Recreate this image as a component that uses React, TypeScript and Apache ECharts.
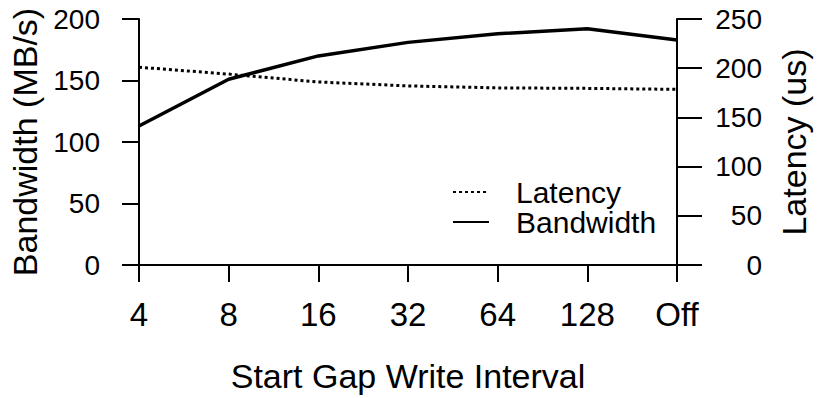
import React, { useEffect, useRef } from "react";
import * as echarts from "echarts";

const categories = ["4", "8", "16", "32", "64", "128", "Off"];
const bandwidth = [113, 151, 170, 181, 188, 192, 183];
const latency = [201, 194, 186, 182, 180, 179.5, 178.5];
const leftTicks = { min: 0, max: 200, interval: 50 };
const rightTicks = { min: 0, max: 250, interval: 50 };

const FONT = "'Liberation Sans', Arial, Helvetica, sans-serif";

export default function App() {
  const ref = useRef<HTMLDivElement>(null);
  useEffect(() => {
    if (!ref.current) return;
    const chart = echarts.init(ref.current, null, { renderer: "svg" });
    const axisLine = { show: true, onZero: false, lineStyle: { color: "#000", width: 2 } };
    chart.setOption({
      animation: false,
      backgroundColor: "#fff",
      textStyle: { fontFamily: FONT, color: "#000" },
      grid: { left: 139, right: 131, top: 19, bottom: 130, containLabel: false },
      legend: {
        orient: "vertical",
        left: 452,
        top: 177,
        padding: 0,
        itemGap: 0,
        itemWidth: 36,
        itemHeight: 10,
        itemStyle: { opacity: 0 },
        data: [
          { name: "Latency", itemStyle: { opacity: 0 } },
          { name: "Bandwidth", itemStyle: { opacity: 0 } },
        ],
        textStyle: { fontFamily: FONT, fontSize: 30, color: "#000", lineHeight: 27, padding: [0, 0, 0, 22] },
      },
      xAxis: {
        type: "category",
        data: categories,
        boundaryGap: false,
        axisLine,
        axisTick: { show: true, length: 17, lineStyle: { color: "#000", width: 2 } },
        axisLabel: { fontFamily: FONT, fontSize: 33, color: "#000", margin: 33 },
        splitLine: { show: false },
        name: "Start Gap Write Interval",
        nameLocation: "middle",
        nameGap: 94,
        nameTextStyle: { fontFamily: FONT, fontSize: 34, color: "#000" },
      },
      yAxis: [
        {
          type: "value",
          position: "left",
          ...leftTicks,
          axisLine,
          axisTick: { show: true, length: 17, lineStyle: { color: "#000", width: 2 } },
          axisLabel: { fontFamily: FONT, fontSize: 28, color: "#000", margin: 39 },
          splitLine: { show: false },
          name: "Bandwidth (MB/s)",
          nameLocation: "middle",
          nameRotate: 90,
          nameGap: 95,
          nameTextStyle: { fontFamily: FONT, fontSize: 34, color: "#000" },
        },
        {
          type: "value",
          position: "right",
          ...rightTicks,
          alignTicks: false,
          axisLine,
          axisTick: { show: true, length: 25, lineStyle: { color: "#000", width: 2 } },
          axisLabel: { fontFamily: FONT, fontSize: 28, color: "#000", margin: 85, align: "right" },
          splitLine: { show: false },
          name: "Latency (us)",
          nameLocation: "middle",
          nameRotate: 90,
          nameGap: 100,
          nameTextStyle: { fontFamily: FONT, fontSize: 34, color: "#000" },
        },
      ],
      series: [
        {
          name: "Latency",
          type: "line",
          yAxisIndex: 1,
          data: latency,
          symbol: "none",
          lineStyle: { color: "#000", width: 3, type: [3, 3] },
          itemStyle: { color: "#000" },
        },
        {
          name: "Bandwidth",
          type: "line",
          yAxisIndex: 0,
          data: bandwidth,
          symbol: "none",
          lineStyle: { color: "#000", width: 3.5, type: "solid" },
          itemStyle: { color: "#000" },
        },
      ],
    });
    return () => chart.dispose();
  }, []);
  return (
    <div
      ref={ref}
      style={{ position: "fixed", left: 0, top: 0, width: 819, height: 398 }}
    />
  );
}
